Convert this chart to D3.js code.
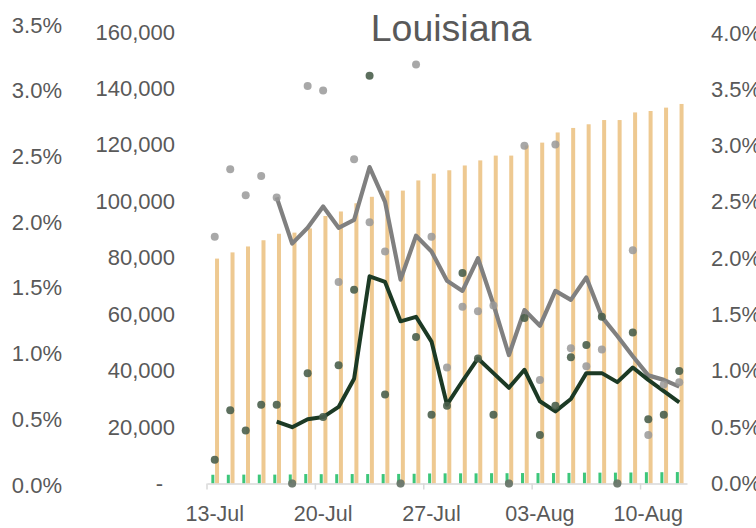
<!DOCTYPE html>
<html>
<head>
<meta charset="utf-8">
<script src="https://cdn.jsdelivr.net/npm/d3@7"></script>
<style>
  body { margin: 0; background: #fff; }
  text { font-family: "Liberation Sans", Arial, sans-serif; }
</style>
</head>
<body>
<div class="chartwrap"></div>
<script>
var width = 756, height = 528;

// categories: one per day
var days = ["13-Jul","14-Jul","15-Jul","16-Jul","17-Jul","18-Jul","19-Jul",
            "20-Jul","21-Jul","22-Jul","23-Jul","24-Jul","25-Jul","26-Jul",
            "27-Jul","28-Jul","29-Jul","30-Jul","31-Jul","01-Aug","02-Aug",
            "03-Aug","04-Aug","05-Aug","06-Aug","07-Aug","08-Aug","09-Aug",
            "10-Aug","11-Aug","12-Aug"];
var weekLabels = ["13-Jul","20-Jul","27-Jul","03-Aug","10-Aug"];

// cumulative counts (orange) and small daily counts (green)
var tests = [79700, 81900, 84000, 86200, 88500, 88900, 90400, 94800, 96400, 99300,
             101600, 103800, 103800, 107400, 109800, 111000, 112700, 114500, 116200, 116200,
             119800, 120800, 124400, 126000, 127300, 128800, 128800, 131500, 132000, 133200, 134500];
var cases = [3100, 3100, 3150, 3150, 3150, 3200, 3350, 3300, 3300, 3350,
             3350, 3350, 3400, 3450, 3550, 3600, 3600, 3600, 3650, 3650,
             3700, 3700, 3700, 3750, 3850, 3850, 3850, 3900, 4000, 4000, 4050];

// daily rates (%) and their rolling averages
var grayDots = [2.19, 2.79, 2.56, 2.73, 2.54, 0, 3.53, 3.49, 1.79, 2.88,
                2.32, 2.06, 0, 3.72, 2.19, 1.03, 1.57, 1.53, 1.58, 0,
                3.00, 0.92, 3.01, 1.20, 1.04, 1.19, 0, 2.07, 0.43, 0.88, 0.90];
var darkDots = [0.21, 0.65, 0.47, 0.70, 0.70, 0, 0.98, 0.59, 1.05, 1.72,
                3.62, 0.79, 0, 1.30, 0.61, 0.69, 1.87, 1.11, 0.61, 0,
                1.47, 0.43, 0.69, 1.12, 1.23, 1.48, 0, 1.34, 0.57, 0.61, 1.00];
var grayAvg = [null, null, null, null, 2.54, 2.13, 2.27, 2.46, 2.27, 2.34,
               2.81, 2.50, 1.81, 2.20, 2.06, 1.80, 1.71, 2.00, 1.59, 1.14,
               1.54, 1.40, 1.71, 1.63, 1.83, 1.48, 1.31, 1.13, 0.96, 0.92, 0.86];
var darkAvg = [null, null, null, null, 0.55, 0.50, 0.57, 0.59, 0.68, 0.93,
               1.84, 1.79, 1.44, 1.48, 1.26, 0.70, 0.91, 1.11, 0.98, 0.85,
               1.01, 0.73, 0.64, 0.75, 0.98, 0.98, 0.90, 1.03, 0.92, 0.82, 0.72];

var leftPctTicks = [0, 0.5, 1.0, 1.5, 2.0, 2.5, 3.0, 3.5];
var countTicks = [0, 20000, 40000, 60000, 80000, 100000, 120000, 140000, 160000];
var rightPctTicks = [0, 0.5, 1.0, 1.5, 2.0, 2.5, 3.0, 3.5, 4.0];

var plot = {left: 207, right: 687, top: 32, bottom: 483.5};
var textcolor = "#595959";

var svg = d3.select(".chartwrap").append("svg")
    .attr("width", width)
    .attr("height", height);

var x = d3.scaleBand()
    .domain(days)
    .range([plot.left, plot.right]);
var bw = x.bandwidth();

var yCount = d3.scaleLinear().domain([0, 160000]).range([plot.bottom, plot.top]);
var yRight = d3.scaleLinear().domain([0, 4]).range([plot.bottom, 33]);
var yLeft = d3.scaleLinear().domain([0, 3.5]).range([485, 25]);

// title
svg.append("text")
    .attr("x", 451)
    .attr("y", 41)
    .attr("text-anchor", "middle")
    .attr("fill", textcolor)
    .style("font-size", "37.5px")
    .text("Louisiana");

// bars
var barg = svg.append("g").attr("class", "bars");
barg.selectAll("rect.tests")
    .data(tests)
    .enter().append("rect")
    .attr("class", "tests")
    .attr("x", function(d, i) { return x(days[i]) + bw/2 + 0.3; })
    .attr("width", 4)
    .attr("y", function(d) { return yCount(d); })
    .attr("height", function(d) { return yCount(0) - yCount(d); })
    .attr("fill", "#EEC991");

barg.selectAll("rect.cases")
    .data(cases)
    .enter().append("rect")
    .attr("class", "cases")
    .attr("x", function(d, i) { return x(days[i]) + bw/2 - 3.4; })
    .attr("width", 3)
    .attr("y", function(d) { return yCount(d); })
    .attr("height", function(d) { return yCount(0) - yCount(d); })
    .attr("fill", "#3DC67A");

// x axis
var xAxis = d3.axisBottom(x)
    .tickValues(weekLabels)
    .tickSizeInner(6)
    .tickSizeOuter(0)
    .tickPadding(16);

var xg = svg.append("g")
    .attr("transform", "translate(0," + plot.bottom + ")")
    .call(xAxis);
xg.select(".domain").attr("stroke", "#D9D9D9").attr("stroke-width", 1.5);
xg.selectAll(".tick line")
    .attr("stroke", "#D9D9D9")
    .attr("stroke-width", 1.5)
    .attr("x1", -bw/2).attr("x2", -bw/2);
xg.selectAll(".tick text")
    .attr("fill", textcolor)
    .style("font-size", "21.5px")
    .style("font-family", "Liberation Sans, Arial, sans-serif");

// y axes
function plainAxis(g, size) {
    g.select(".domain").remove();
    g.selectAll(".tick line").remove();
    g.selectAll(".tick text")
        .attr("fill", textcolor)
        .style("font-size", size)
        .style("font-family", "Liberation Sans, Arial, sans-serif");
}

var leftAxis = d3.axisLeft(yLeft)
    .tickValues(leftPctTicks)
    .tickSize(0)
    .tickFormat(function(d) { return d.toFixed(1) + "%"; });
svg.append("g")
    .attr("transform", "translate(65,0)")
    .call(leftAxis)
    .call(plainAxis, "22px");

var countAxis = d3.axisLeft(yCount)
    .tickValues(countTicks)
    .tickSize(0)
    .tickFormat(function(d) { return d === 0 ? "-" : d3.format(",")(d); });
var cg = svg.append("g")
    .attr("transform", "translate(178,0)")
    .call(countAxis)
    .call(plainAxis, "22px");
cg.selectAll(".tick text")
    .filter(function(d) { return d === 0; })
    .attr("dx", -12);

var rightAxis = d3.axisRight(yRight)
    .tickValues(rightPctTicks)
    .tickSize(0)
    .tickFormat(function(d) { return d.toFixed(1) + "%"; });
svg.append("g")
    .attr("transform", "translate(708,0)")
    .call(rightAxis)
    .call(plainAxis, "22px");

// lines
var line = d3.line()
    .defined(function(d) { return d != null; })
    .x(function(d, i) { return x(days[i]) + bw/2; })
    .y(function(d) { return yRight(d); });

svg.append("path")
    .datum(grayAvg)
    .attr("fill", "none")
    .attr("stroke", "#808080")
    .attr("stroke-width", 4.2)
    .attr("stroke-linejoin", "round")
    .attr("d", line);

svg.append("path")
    .datum(darkAvg)
    .attr("fill", "none")
    .attr("stroke", "#1C3A25")
    .attr("stroke-width", 4)
    .attr("stroke-linejoin", "round")
    .attr("d", line);

// dots
svg.append("g").selectAll("circle")
    .data(darkDots)
    .enter().append("circle")
    .attr("cx", function(d, i) { return x(days[i]) + bw/2; })
    .attr("cy", function(d) { return yRight(d); })
    .attr("r", 4)
    .attr("fill", "#4A5F4D")
    .attr("fill-opacity", 0.9);

svg.append("g").selectAll("circle")
    .data(grayDots)
    .enter().append("circle")
    .attr("cx", function(d, i) { return x(days[i]) + bw/2; })
    .attr("cy", function(d) { return yRight(d); })
    .attr("r", 4)
    .attr("fill", "#999999")
    .attr("fill-opacity", function(d) { return d === 0 ? 0.35 : 0.85; });
</script>
</body>
</html>
